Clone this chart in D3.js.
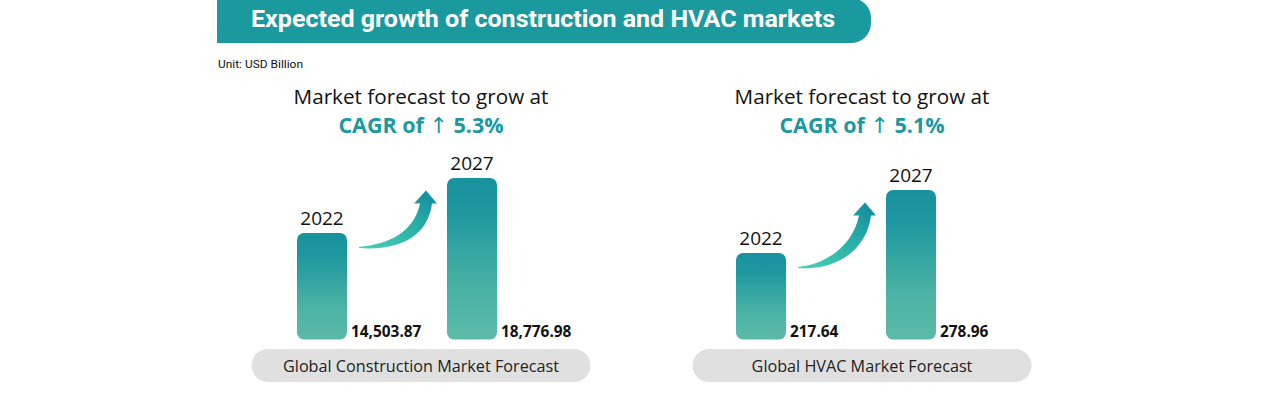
<!DOCTYPE html>
<html>
<head>
<meta charset="utf-8">
<script src="https://cdn.jsdelivr.net/npm/d3@7/dist/d3.min.js"></script>
<style>
  html, body { margin: 0; padding: 0; background: #ffffff; }
  svg { display: block; }
</style>
</head>
<body>
<svg id="chart" width="1284" height="400"></svg>
<script>
// ---- data ----
const chartTitle = "Expected growth of construction and HVAC markets";
const unitLabel = "Unit: USD Billion";
const years = ["2022", "2027"];
const panelNames = ["Global Construction Market Forecast", "Global HVAC Market Forecast"];
const cagrValues = ["5.3%", "5.1%"];
const constructionValues = [14503.87, 18776.98];
const hvacValues = [217.64, 278.96];
const valueLabels = [["14,503.87", "18,776.98"], ["217.64", "278.96"]];
// value axis extents for each panel (bars are drawn from a non-zero base)
const axisMin = [6230, 133.5];
const axisMax = [18777, 290.6];

const seriesValues = [constructionValues, hvacValues];

// ---- drawing ----
const svg = d3.select("#chart");
const teal = "#1a9a9f";
const defs = svg.append("defs");

const barGrad = defs.append("linearGradient")
  .attr("id", "barGrad").attr("x1", 0).attr("y1", 0).attr("x2", 0).attr("y2", 1);
barGrad.append("stop").attr("offset", "0%").attr("stop-color", "#18939e");
barGrad.append("stop").attr("offset", "20%").attr("stop-color", "#1c979f");
barGrad.append("stop").attr("offset", "70%").attr("stop-color", "#4cb3a5");
barGrad.append("stop").attr("offset", "100%").attr("stop-color", "#5bbaa7");

const arrowGrad = defs.append("linearGradient")
  .attr("id", "arrowGrad").attr("x1", 0).attr("y1", 1).attr("x2", 0.8).attr("y2", 0);
arrowGrad.append("stop").attr("offset", "0%").attr("stop-color", "#49d0b6");
arrowGrad.append("stop").attr("offset", "55%").attr("stop-color", "#2bb2a8");
arrowGrad.append("stop").attr("offset", "100%").attr("stop-color", "#15909f");

// header banner
const hx0 = 217, hx1 = 871, hh = 43, hr = 20;
svg.append("path")
  .attr("d", `M${hx0},-2 H${hx1 - hr} A${hr},${hr} 0 0 1 ${hx1},${hr - 2} V${hh - hr} A${hr},${hr} 0 0 1 ${hx1 - hr},${hh} H${hx0} Z`)
  .attr("fill", teal);
svg.append("text")
  .attr("x", 251).attr("y", 27)
  .attr("font-family", "Roboto, 'Open Sans', sans-serif")
  .attr("font-weight", 700).attr("font-size", 23)
  .attr("fill", "#ffffff")
  .attr("textLength", 584).attr("lengthAdjust", "spacingAndGlyphs")
  .text(chartTitle);

svg.append("text")
  .attr("x", 218).attr("y", 68)
  .attr("font-family", "Roboto, 'Open Sans', sans-serif")
  .attr("font-size", 11).attr("fill", "#111")
  .attr("textLength", 85).attr("lengthAdjust", "spacingAndGlyphs")
  .text(unitLabel);

const panels = [
  { center: 421, range: [297, 497] },
  { center: 862, range: [736, 936] }
];
const baseY = 339.5, topY = 178;

panels.forEach((p, i) => {
  const g = svg.append("g");
  const vals = seriesValues[i];
  const x = d3.scaleBand().domain(years).range(p.range).paddingInner(2 / 3).paddingOuter(0);
  const y = d3.scaleLinear().domain([axisMin[i], axisMax[i]]).range([baseY, topY]);

  // titles
  g.append("text")
    .attr("x", p.center).attr("y", 104).attr("text-anchor", "middle")
    .attr("font-family", "'Open Sans', 'Noto Sans', sans-serif")
    .attr("font-size", 20.7).attr("fill", "#111")
    .text("Market forecast to grow at");
  const t2 = g.append("text")
    .attr("x", p.center).attr("y", 133).attr("text-anchor", "middle")
    .attr("font-family", "'Open Sans', 'Noto Sans', sans-serif")
    .attr("font-size", 21.5).attr("fill", teal).attr("font-weight", 700);
  t2.append("tspan").text("CAGR of ");
  t2.append("tspan").attr("font-weight", 400)
    .attr("font-family", "'DejaVu Sans', sans-serif")
    .attr("font-size", 22).text("\u2191");
  t2.append("tspan").text(" " + cagrValues[i]);

  const data = years.map((yr, j) => ({ year: yr, value: vals[j], label: valueLabels[i][j] }));

  // bars
  g.selectAll("rect.bar").data(data).join("rect")
    .attr("class", "bar")
    .attr("x", d => x(d.year))
    .attr("width", x.bandwidth())
    .attr("y", d => y(d.value))
    .attr("height", d => baseY - y(d.value))
    .attr("rx", 7).attr("ry", 7)
    .attr("fill", "url(#barGrad)");

  // year labels
  g.selectAll("text.year").data(data).join("text")
    .attr("class", "year")
    .attr("x", d => x(d.year) + x.bandwidth() / 2)
    .attr("y", d => y(d.value) - 8)
    .attr("text-anchor", "middle")
    .attr("font-family", "'Open Sans', 'Noto Sans', sans-serif")
    .attr("font-size", 19).attr("fill", "#111")
    .text(d => d.year);

  // value labels
  g.selectAll("text.val").data(data).join("text")
    .attr("class", "val")
    .attr("x", d => x(d.year) + x.bandwidth() + 4)
    .attr("y", 337)
    .attr("font-family", "'Open Sans', 'Noto Sans', sans-serif")
    .attr("font-size", 15.4).attr("font-weight", 700).attr("fill", "#111")
    .text(d => d.label);

  // growth arrow
  const tx = x(years[0]) + x.bandwidth() + 12;
  const ty = y(vals[0]) + 14;
  const px = x(years[1]) - 21;
  const py = y(vals[1]) + 12.5;
  const hb = py + 13;
  const path = `M${tx},${ty}
    C${tx + 30},${ty - 3} ${px - 12},${py + 42} ${px - 6},${hb}
    L${px - 12},${hb} L${px},${py} L${px + 11},${hb} L${px + 6},${hb}
    C${px + 2},${py + 46} ${tx + 40},${ty + 4} ${tx},${ty + 1} Z`;
  g.append("path").attr("d", path).attr("fill", "url(#arrowGrad)");

  // footer pill
  const pw = 339, ph = 33;
  g.append("rect")
    .attr("x", p.center - pw / 2).attr("y", 349)
    .attr("width", pw).attr("height", ph)
    .attr("rx", ph / 2).attr("ry", ph / 2)
    .attr("fill", "#e1e0e1");
  g.append("text")
    .attr("x", p.center).attr("y", 372).attr("text-anchor", "middle")
    .attr("font-family", "'Open Sans', 'Noto Sans', sans-serif")
    .attr("font-size", 16.2).attr("fill", "#222")
    .text(panelNames[i]);
});
</script>
</body>
</html>
